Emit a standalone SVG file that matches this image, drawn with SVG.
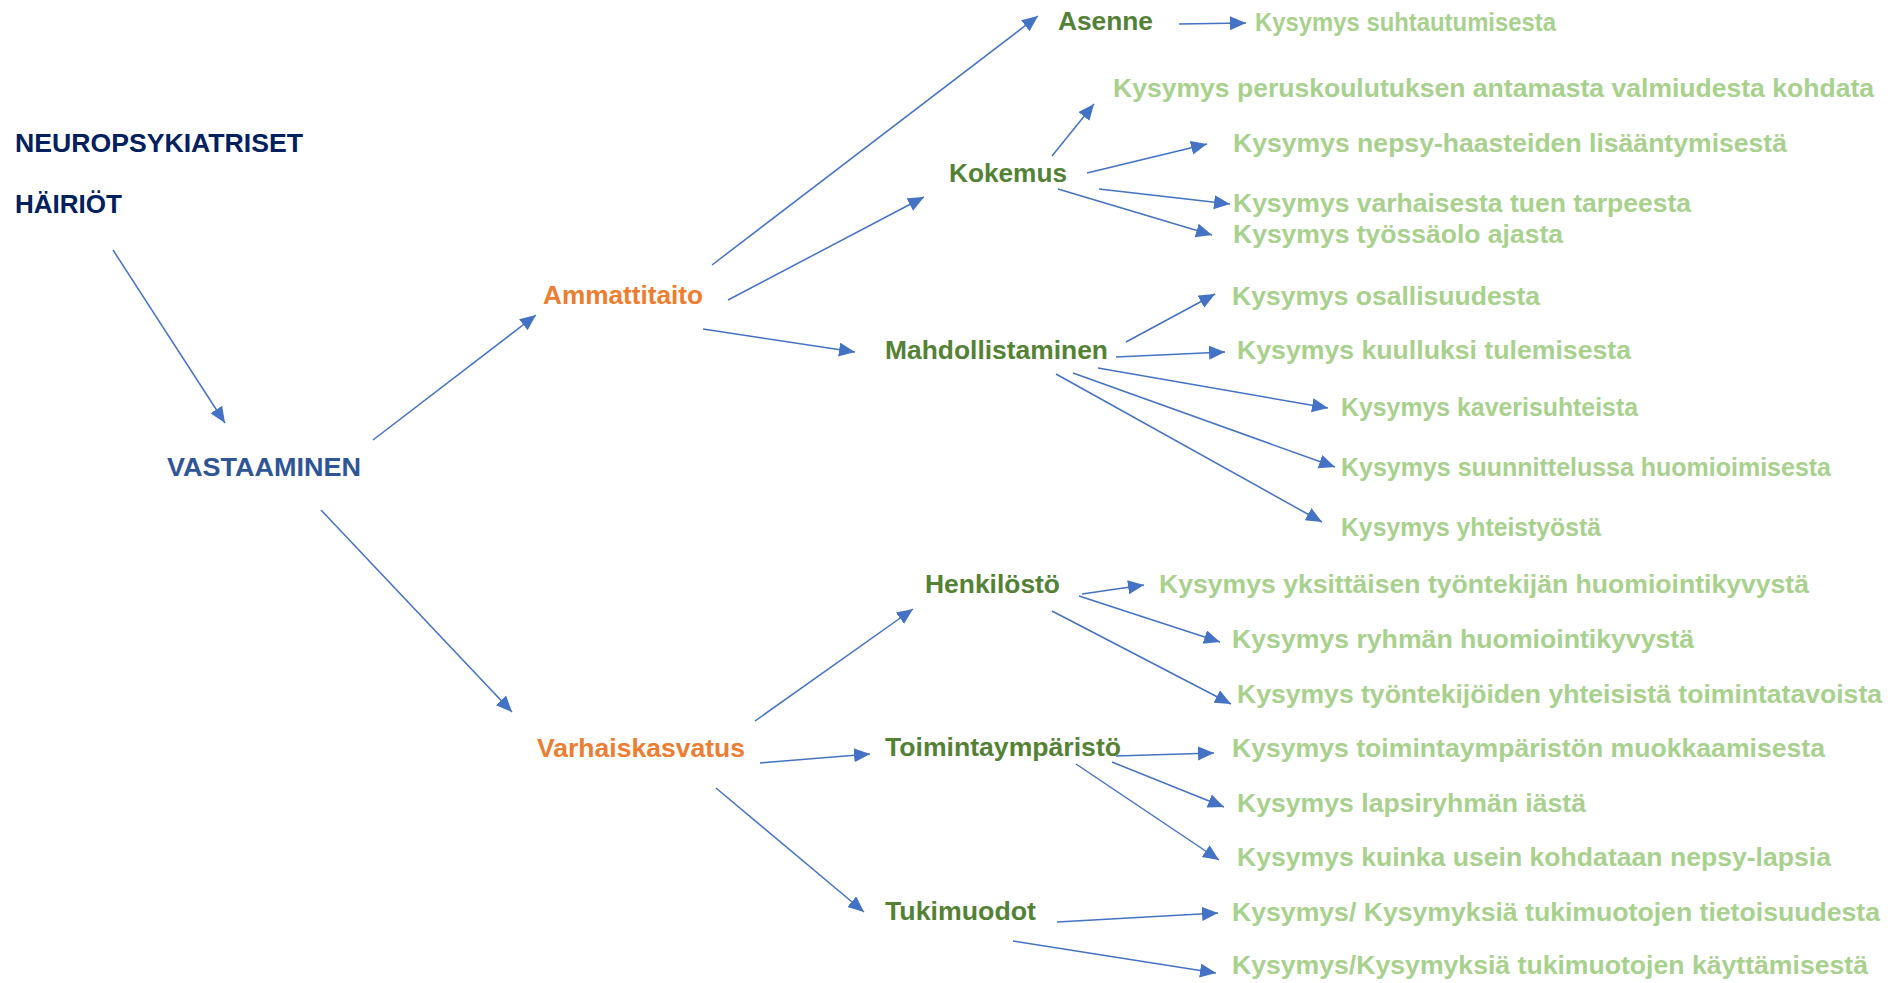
<svg xmlns="http://www.w3.org/2000/svg" width="1901" height="983" viewBox="0 0 1901 983">
<style>
text{font-family:"Liberation Sans",Arial,sans-serif;font-weight:bold;font-size:26.5px}
.root{fill:#002060}
.main{fill:#2F5597}
.cat{fill:#ED7D31}
.sub{fill:#548235}
.q{fill:#A9D18E}
.c line{stroke:#4472C4;stroke-width:1.5;fill:none;marker-end:url(#ah)}
</style>
<defs>
<marker id="ah" markerUnits="userSpaceOnUse" markerWidth="18" markerHeight="16" refX="16" refY="7" orient="auto">
<path d="M0,0 L16,7 L0,14 z" fill="#4472C4"/>
</marker>
</defs>
<rect width="1901" height="983" fill="#ffffff"/>
<g class="c" id="connectors">
<line x1="113" y1="250" x2="225" y2="423"/>
<line x1="373" y1="440" x2="536" y2="315"/>
<line x1="321" y1="510" x2="512" y2="712"/>
<line x1="712" y1="265" x2="1038" y2="16"/>
<line x1="728" y1="300" x2="924" y2="197"/>
<line x1="703" y1="329" x2="855" y2="352"/>
<line x1="1179" y1="24" x2="1246" y2="23"/>
<line x1="1052" y1="156" x2="1094" y2="104"/>
<line x1="1087" y1="173" x2="1207" y2="144"/>
<line x1="1099" y1="189" x2="1230" y2="204"/>
<line x1="1058" y1="189" x2="1212" y2="235"/>
<line x1="1126" y1="342" x2="1215" y2="294"/>
<line x1="1116" y1="357" x2="1225" y2="352"/>
<line x1="1098" y1="368" x2="1328" y2="408"/>
<line x1="1073" y1="373" x2="1335" y2="467"/>
<line x1="1056" y1="374" x2="1322" y2="522"/>
<line x1="755" y1="721" x2="913" y2="609"/>
<line x1="760" y1="763" x2="870" y2="754"/>
<line x1="716" y1="788" x2="864" y2="912"/>
<line x1="1082" y1="594" x2="1144" y2="585"/>
<line x1="1079" y1="596" x2="1220" y2="642"/>
<line x1="1052" y1="611" x2="1231" y2="704"/>
<line x1="1116" y1="756" x2="1214" y2="753"/>
<line x1="1112" y1="762" x2="1224" y2="807"/>
<line x1="1076" y1="764" x2="1219" y2="860"/>
<line x1="1057" y1="922" x2="1218" y2="913"/>
<line x1="1013" y1="941" x2="1216" y2="973"/>
</g>
<g id="n-root"><text class="root" x="15" y="152" textLength="288" lengthAdjust="spacingAndGlyphs">NEUROPSYKIATRISET</text><text class="root" x="15" y="213" textLength="107" lengthAdjust="spacingAndGlyphs">HÄIRIÖT</text></g>
<g id="n-vastaaminen"><text class="main" x="167" y="476" textLength="194" lengthAdjust="spacingAndGlyphs">VASTAAMINEN</text></g>
<g id="n-ammattitaito"><text class="cat" x="543" y="304" textLength="160" lengthAdjust="spacingAndGlyphs">Ammattitaito</text></g>
<g id="n-varhaiskasvatus"><text class="cat" x="537" y="757" textLength="208" lengthAdjust="spacingAndGlyphs">Varhaiskasvatus</text></g>
<g id="n-asenne"><text class="sub" x="1058" y="30" textLength="95" lengthAdjust="spacingAndGlyphs">Asenne</text></g>
<g id="n-kokemus"><text class="sub" x="949" y="182" textLength="118" lengthAdjust="spacingAndGlyphs">Kokemus</text></g>
<g id="n-mahdollistaminen"><text class="sub" x="885" y="359" textLength="223" lengthAdjust="spacingAndGlyphs">Mahdollistaminen</text></g>
<g id="n-henkilosto"><text class="sub" x="925" y="593" textLength="135" lengthAdjust="spacingAndGlyphs">Henkilöstö</text></g>
<g id="n-toimintaymparisto"><text class="sub" x="885" y="756" textLength="236" lengthAdjust="spacingAndGlyphs">Toimintaympäristö</text></g>
<g id="n-tukimuodot"><text class="sub" x="885" y="920" textLength="151" lengthAdjust="spacingAndGlyphs">Tukimuodot</text></g>
<g id="q-suhtautumisesta"><text class="q" x="1255" y="31" textLength="301" lengthAdjust="spacingAndGlyphs">Kysymys suhtautumisesta</text></g>
<g id="q-peruskoulutus"><text class="q" x="1113" y="97" textLength="761" lengthAdjust="spacingAndGlyphs">Kysymys peruskoulutuksen antamasta valmiudesta kohdata</text></g>
<g id="q-nepsy"><text class="q" x="1233" y="152" textLength="554" lengthAdjust="spacingAndGlyphs">Kysymys nepsy-haasteiden lisääntymisestä</text></g>
<g id="q-varhainen"><text class="q" x="1233" y="212" textLength="458" lengthAdjust="spacingAndGlyphs">Kysymys varhaisesta tuen tarpeesta</text></g>
<g id="q-tyossaolo"><text class="q" x="1233" y="243" textLength="330" lengthAdjust="spacingAndGlyphs">Kysymys työssäolo ajasta</text></g>
<g id="q-osallisuus"><text class="q" x="1232" y="305" textLength="308" lengthAdjust="spacingAndGlyphs">Kysymys osallisuudesta</text></g>
<g id="q-kuulluksi"><text class="q" x="1237" y="359" textLength="394" lengthAdjust="spacingAndGlyphs">Kysymys kuulluksi tulemisesta</text></g>
<g id="q-kaveri"><text class="q" x="1341" y="416" textLength="297" lengthAdjust="spacingAndGlyphs">Kysymys kaverisuhteista</text></g>
<g id="q-suunnittelu"><text class="q" x="1341" y="476" textLength="490" lengthAdjust="spacingAndGlyphs">Kysymys suunnittelussa huomioimisesta</text></g>
<g id="q-yhteistyo"><text class="q" x="1341" y="536" textLength="260" lengthAdjust="spacingAndGlyphs">Kysymys yhteistyöstä</text></g>
<g id="q-yksittainen"><text class="q" x="1159" y="593" textLength="650" lengthAdjust="spacingAndGlyphs">Kysymys yksittäisen työntekijän huomiointikyvystä</text></g>
<g id="q-ryhma"><text class="q" x="1232" y="648" textLength="462" lengthAdjust="spacingAndGlyphs">Kysymys ryhmän huomiointikyvystä</text></g>
<g id="q-toimintatavat"><text class="q" x="1237" y="703" textLength="645" lengthAdjust="spacingAndGlyphs">Kysymys työntekijöiden yhteisistä toimintatavoista</text></g>
<g id="q-muokkaus"><text class="q" x="1232" y="757" textLength="593" lengthAdjust="spacingAndGlyphs">Kysymys toimintaympäristön muokkaamisesta</text></g>
<g id="q-ika"><text class="q" x="1237" y="812" textLength="349" lengthAdjust="spacingAndGlyphs">Kysymys lapsiryhmän iästä</text></g>
<g id="q-kuinka"><text class="q" x="1237" y="866" textLength="594" lengthAdjust="spacingAndGlyphs">Kysymys kuinka usein kohdataan nepsy-lapsia</text></g>
<g id="q-tietoisuus"><text class="q" x="1232" y="921" textLength="648" lengthAdjust="spacingAndGlyphs">Kysymys/ Kysymyksiä tukimuotojen tietoisuudesta</text></g>
<g id="q-kaytto"><text class="q" x="1232" y="974" textLength="636" lengthAdjust="spacingAndGlyphs">Kysymys/Kysymyksiä tukimuotojen käyttämisestä</text></g>
</svg>
